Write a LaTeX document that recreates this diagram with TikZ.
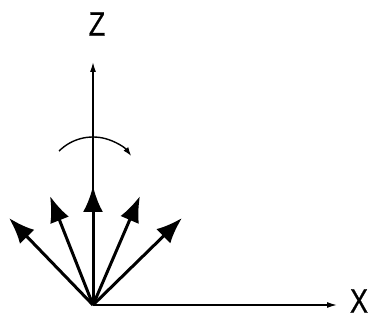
\documentclass[tikz,border=0pt]{standalone}
\usepackage{fontspec}
\setmainfont{Liberation Sans}
\newfontfamily\lblfont[FakeBold=0.6]{Liberation Sans}
\usetikzlibrary{arrows.meta}
\begin{document}
\begin{tikzpicture}[x=1pt,y=1pt,
  axis/.style={line width=1.4pt,-{Latex[length=10pt,width=6pt]}},
  vec/.style={line width=3pt,-{Latex[length=26pt,width=20pt]}},
  lbl/.style={font=\lblfont\fontsize{34}{34}\selectfont,inner sep=0pt,xscale=0.8}]
\useasboundingbox (0,0) rectangle (371,320);
\coordinate (O) at (93,15);
\coordinate (xt) at (337,15);
\coordinate (zt) at (93,258);
\draw[axis] (O) -- (xt);
\draw[axis] (O) -- (zt);
\node[lbl] (X) at (359,19) {X};
\node[lbl] (Z) at (97,296) {Z};
\coordinate (a1) at (9,102);
\coordinate (a2) at (50,124);
\coordinate (a3) at (93,134);
\coordinate (a4) at (140,124);
\coordinate (a5) at (182,102);
\foreach \p in {a1,a2,a3,a4,a5} \draw[vec] (O) -- (\p);
\draw[line width=1.4pt,-{Latex[length=9pt,width=6pt]}] (93,135) ++(135:48) arc[start angle=135,end angle=37,radius=48];
\end{tikzpicture}
\end{document}
